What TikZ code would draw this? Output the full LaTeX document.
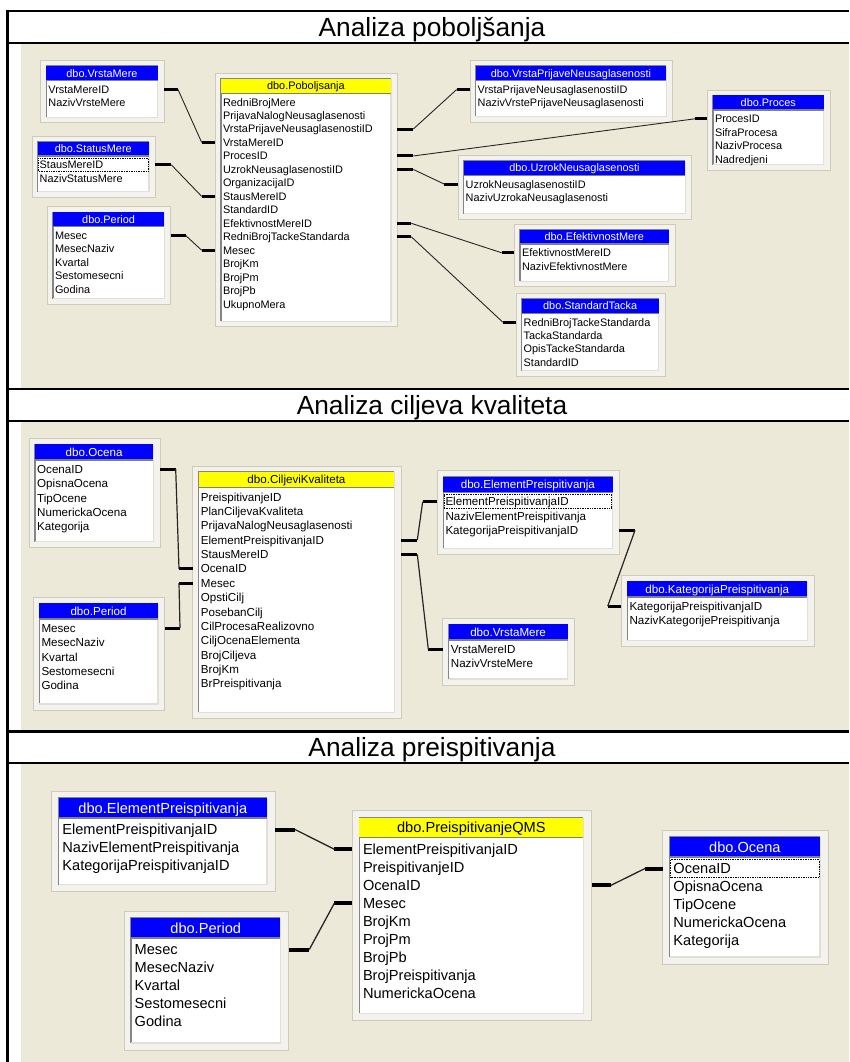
\documentclass[tikz,border=0pt]{standalone}
\usepackage{fontspec}
\setmainfont{Liberation Sans}
\usetikzlibrary{calc}

\definecolor{bgbeige}{HTML}{ECE9D8}
\definecolor{framefill}{HTML}{F3F2EC}
\definecolor{frameline}{HTML}{CFCBBB}
\definecolor{sunkdark}{HTML}{858585}
\definecolor{sunklight}{HTML}{E2E0D6}
\definecolor{barblue}{HTML}{0000FF}
\definecolor{baryellow}{HTML}{FFFF00}

% metrics of the table windows (changed per panel)
\newcommand\fieldfont{\fontsize{\tfs}{\tpitch}\selectfont}

% \dbtable{name}{bar style}{title}{x1}{y1}{x2}{y2}{fields}
\newcommand\dbtable[8]{%
  \node[tabframe, anchor=north west, minimum width={#6-#4}, minimum height={#7-#5}] (#1) at (#4,#5) {};
  \fill[white] (#4+\tinsl,#5+\tinst) rectangle (#6-\tinsr,#7-\tinsb);
  \draw[sunkdark, line width=1.4pt] (#4+\tinsl,#7-\tinsb) -- (#4+\tinsl,#5+\tinst) -- (#6-\tinsr,#5+\tinst);
  \draw[sunklight, line width=1.2pt] (#6-\tinsr,#5+\tinst) -- (#6-\tinsr,#7-\tinsb) -- (#4+\tinsl,#7-\tinsb);
  \node[titlebar, #2, anchor=north west, minimum width={#6-#4-\tinsl-\tinsr}] (#1-t) at (#4+\tinsl,#5+\tinst) {#3};
  \draw[gray, line width=1.5pt] (#1-t.south west) -- (#1-t.south east);
  \foreach \f [count=\i] in {#8}
    \node[field, anchor=west] (#1-\i) at (#4+\tinsl+\tfx, #5+\tinst+\tbarh+\troff+\tpitch*\i-\tpitch) {\f};
}

% dotted focus box around the first field of a table
\newcommand\focusrow[1]{%
  \draw[focusbox] ($(#1-t.west |- #1-1)+(0.8,-0.48*\tpitch)$) rectangle ($(#1-t.east |- #1-1)+(-0.8,0.48*\tpitch)$);
}

% \relation{start}{stub dx}{end}{stub dx}
\newcommand\relation[4]{%
  \draw[stub] #1 -- ++(#2,0) coordinate (la);
  \draw[stub] #3 -- ++(#4,0) coordinate (lb);
  \draw[relline] (la) -- (lb);
}

\begin{document}
\begin{tikzpicture}[x=1pt,y=-1pt,
  rule/.style={line width=2.6pt, black},
  heading/.style={inner sep=0pt, font=\fontsize{26.3}{30}\selectfont, text height=18.9pt, text depth=0pt},
  tabframe/.style={draw=frameline, fill=framefill, line width=0.8pt, inner sep=0pt, outer sep=0pt},
  titlebar/.style={inner sep=0pt, outer sep=0pt, minimum height=\tbarh, font=\fieldfont, text height=\tfth, text depth=0pt},
  bluebar/.style={fill=barblue, text=white},
  yellowbar/.style={fill=baryellow, text=black},
  field/.style={inner sep=0pt, font=\fieldfont, text height=\tfth, text depth=0pt},
  stub/.style={line width=\tstubw, black},
  relline/.style={line width=\tlinew, black!85},
  focusbox/.style={densely dotted, line width=0.7pt, black}
]
\useasboundingbox (0,0) rectangle (849,1062);
\fill[white] (0,0) rectangle (849,1062);

% panel backgrounds
\fill[bgbeige] (20.5,43) rectangle (849,389);
\fill[bgbeige] (20.5,421) rectangle (849,731.5);
\fill[bgbeige] (20.5,763) rectangle (849,1062);

% frame rules
\draw[rule] (7.5,9.7) -- (7.5,1062);
\foreach \yy in {11,43,388.8,421,731.5,763}
  \draw[rule] (6.2,\yy) -- (849,\yy);

% panel headings
\node[heading] (h1) at (432,27) {Analiza poboljšanja};
\node[heading] (h2) at (432,405.3) {Analiza ciljeva kvaliteta};
\node[heading] (h3) at (432,747) {Analiza preispitivanja};

% ---------------- panel 1 ----------------
\def\tfs{10.9}\def\tpitch{13.47}\def\tbarh{14.5}\def\troff{8.8}
\def\tinsl{5.5}\def\tinst{5.5}\def\tinsr{6.3}\def\tinsb{5.5}\def\tfx{2}
\def\tfth{7.85pt}\def\tstubw{3pt}\def\tlinew{0.9pt}

\dbtable{vm}{bluebar}{dbo.VrstaMere}{40.7}{60.7}{164}{122.7}{VrstaMereID,NazivVrsteMere}
\dbtable{sm}{bluebar}{dbo.StatusMere}{32}{136}{155.3}{197}{StausMereID,NazivStatusMere}
\dbtable{per}{bluebar}{dbo.Period}{47.3}{206.7}{170.7}{304}{Mesec,MesecNaziv,Kvartal,Sestomesecni,Godina}
\dbtable{pob}{yellowbar}{dbo.Poboljsanja}{215.3}{73.3}{397.3}{326.7}{RedniBrojMere,PrijavaNalogNeusaglasenosti,VrstaPrijaveNeusaglasenostiID,VrstaMereID,ProcesID,UzrokNeusaglasenostiID,OrganizacijaID,StausMereID,StandardID,EfektivnostMereID,RedniBrojTackeStandarda,Mesec,BrojKm,BrojPm,BrojPb,UkupnoMera}
\dbtable{vp}{bluebar}{dbo.VrstaPrijaveNeusaglasenosti}{470}{60.7}{672.7}{122}{VrstaPrijaveNeusaglasenostiID,NazivVrstePrijaveNeusaglasenosti}
\dbtable{proc}{bluebar}{dbo.Proces}{707.3}{90}{830}{170}{ProcesID,SifraProcesa,NazivProcesa,Nadredjeni}
\dbtable{uz}{bluebar}{dbo.UzrokNeusaglasenosti}{458}{155.3}{691.7}{219}{UzrokNeusaglasenostiID,NazivUzrokaNeusaglasenosti}
\dbtable{ef}{bluebar}{dbo.EfektivnostMere}{514.3}{224}{675}{286.7}{EfektivnostMereID,NazivEfektivnostMere}
\dbtable{st}{bluebar}{dbo.StandardTacka}{516}{293.3}{665}{376}{RedniBrojTackeStandarda,TackaStandarda,OpisTackeStandarda,StandardID}
\focusrow{sm}

\relation{(vm.east |- vm-1)}{14}{(pob.west |- pob-4)}{-13.6}
\relation{(sm.east |- sm-1)}{16}{(pob.west |- pob-8)}{-13.6}
\relation{(per.east |- per-1)}{15}{(pob.west |- pob-12)}{-13.6}
\relation{(pob.east |- pob-3)}{16}{(vp.west |- vp-1)}{-13.3}
\relation{(pob.east |- pob-5)}{16}{(proc.west |- proc-1)}{-12.3}
\relation{(pob.east |- pob-6)}{16}{(uz.west |- uz-1)}{-13.7}
\relation{(pob.east |- pob-10)}{14}{(ef.west |- ef-1)}{-12.6}
\relation{(pob.east |- pob-11)}{14}{(st.west |- st-1)}{-13.3}

% ---------------- panel 2 ----------------
\def\tfs{11.6}\def\tpitch{14.37}\def\tbarh{15.6}\def\troff{9.3}
\def\tinsl{6}\def\tinst{6}\def\tinsr{6.8}\def\tinsb{6}\def\tfx{2}
\def\tfth{8.35pt}\def\tstubw{3pt}\def\tlinew{1.2pt}

\dbtable{oc}{bluebar}{dbo.Ocena}{29}{438.3}{160}{547.7}{OcenaID,OpisnaOcena,TipOcene,NumerickaOcena,Kategorija}
\dbtable{perb}{bluebar}{dbo.Period}{33.3}{597.3}{164.7}{710}{Mesec,MesecNaziv,Kvartal,Sestomesecni,Godina}
\dbtable{cil}{yellowbar}{dbo.CiljeviKvaliteta}{192.7}{466}{401}{718.3}{PreispitivanjeID,PlanCiljevaKvaliteta,PrijavaNalogNeusaglasenosti,ElementPreispitivanjaID,StausMereID,OcenaID,Mesec,OpstiCilj,PosebanCilj,CilProcesaRealizovno,CiljOcenaElementa,BrojCiljeva,BrojKm,BrPreispitivanja}
\dbtable{el}{bluebar}{dbo.ElementPreispitivanja}{437.3}{470.7}{619.3}{554.7}{ElementPreispitivanjaID,NazivElementPreispitivanja,KategorijaPreispitivanjaID}
\dbtable{kat}{bluebar}{dbo.KategorijaPreispitivanja}{621.3}{575.3}{814}{646.7}{KategorijaPreispitivanjaID,NazivKategorijePreispitivanja}
\dbtable{vmb}{bluebar}{dbo.VrstaMere}{442.7}{618.3}{574.3}{685}{VrstaMereID,NazivVrsteMere}
\focusrow{el}

\relation{(oc.east |- oc-1)}{15.7}{(cil.west |- cil-6)}{-13.7}
\relation{(perb.east |- perb-1)}{15.3}{(cil.west |- cil-7)}{-13.7}
\relation{(cil.east |- cil-4)}{16.3}{(el.west |- el-1)}{-14.6}
\relation{(cil.east |- cil-5)}{16.3}{(vmb.west |- vmb-1)}{-14.4}
\relation{(el.east |- el-3)}{15.7}{(kat.west |- kat-1)}{-13.6}

% ---------------- panel 3 ----------------
\def\tfs{14.6}\def\tpitch{18.05}\def\tbarh{19.8}\def\troff{11.7}
\def\tinsl{7}\def\tinst{7}\def\tinsr{8.3}\def\tinsb{7}\def\tfx{3.5}
\def\tfth{10.5pt}\def\tstubw{4pt}\def\tlinew{1.3pt}

\dbtable{elc}{bluebar}{dbo.ElementPreispitivanja}{51.7}{791}{275.3}{891.7}{ElementPreispitivanjaID,NazivElementPreispitivanja,KategorijaPreispitivanjaID}
\dbtable{perc}{bluebar}{dbo.Period}{124}{911}{288.7}{1050}{Mesec,MesecNaziv,Kvartal,Sestomesecni,Godina}
\dbtable{qms}{yellowbar}{dbo.PreispitivanjeQMS}{352.3}{810.7}{591.7}{1020.7}{ElementPreispitivanjaID,PreispitivanjeID,OcenaID,Mesec,BrojKm,ProjPm,BrojPb,BrojPreispitivanja,NumerickaOcena}
\dbtable{occ}{bluebar}{dbo.Ocena}{662.7}{830}{828.3}{964}{OcenaID,OpisnaOcena,TipOcene,NumerickaOcena,Kategorija}
\focusrow{occ}

\relation{(elc.east |- elc-1)}{19.7}{(qms.west |- qms-1)}{-18}
\relation{(perc.east |- perc-1)}{20.6}{(qms.west |- qms-4)}{-18}
\relation{(qms.east |- qms-3)}{19.3}{(occ.west |- occ-1)}{-17.7}
\end{tikzpicture}
\end{document}
